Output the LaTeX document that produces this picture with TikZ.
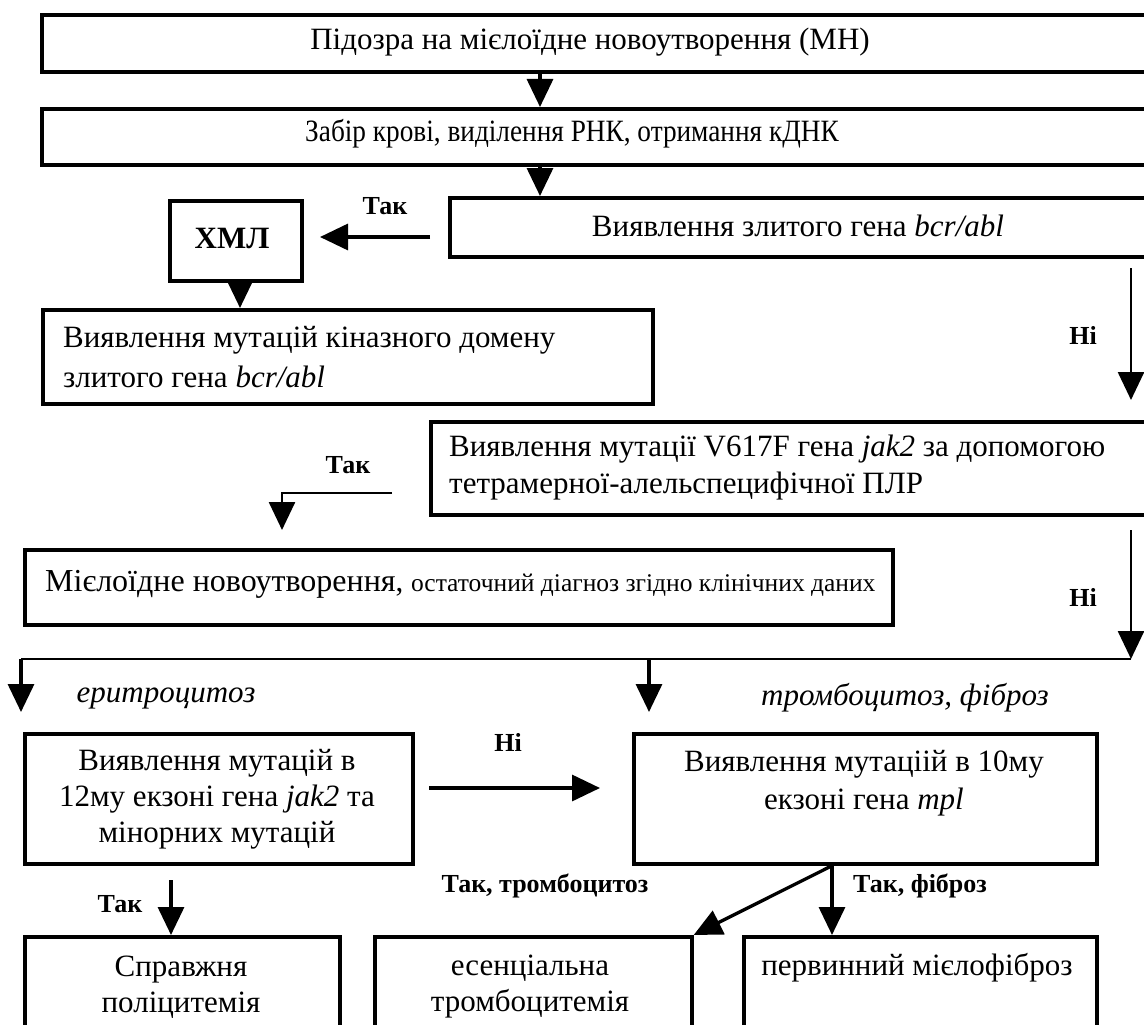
\documentclass[tikz,border=0pt]{standalone}
\usepackage{fontspec}
\setmainfont{Liberation Serif}
\newfontfamily\narrowfont[FakeStretch=0.88]{Liberation Serif}
\usetikzlibrary{arrows.meta}
\begin{document}
\begin{tikzpicture}[x=1pt,y=-1pt,
 box/.style={draw, line width=3.7pt, anchor=north west, inner sep=0pt},
 txt/.style={inner sep=0pt, font=\fontsize{31}{36}\selectfont, align=center},
 lbl/.style={inner sep=0pt, font=\fontsize{26}{30}\selectfont\bfseries},
 arr/.style={line width=3.3pt, -{Triangle[length=28pt,width=26pt]}},
 tarr/.style={line width=2.6pt, -{Triangle[length=28pt,width=26pt]}},
 ln/.style={line width=2.8pt}]
\useasboundingbox (0,0) rectangle (1144,1025);
\clip (0,0) rectangle (1144,1025);
\fill[white] (0,0) rectangle (1144,1025);

% boxes
\node[box, minimum width=1120pt, minimum height=57pt] (b1) at (40,13) {};
\node[box, minimum width=1120pt, minimum height=56pt] (b2) at (40,107) {};
\node[box, minimum width=720pt, minimum height=59pt] (b3) at (448,196) {};
\node[box, minimum width=132pt, minimum height=80pt] (hml) at (168,199) {};
\node[box, minimum width=610pt, minimum height=94pt] (kin) at (41,308) {};
\node[box, minimum width=730pt, minimum height=93pt] (jak) at (429,420) {};
\node[box, minimum width=868pt, minimum height=75pt] (mn) at (23,548) {};
\node[box, minimum width=388pt, minimum height=130pt] (ex12) at (23,732) {};
\node[box, minimum width=463pt, minimum height=130pt] (mpl) at (632,732) {};
\node[box, minimum width=315pt, minimum height=140pt] (pv) at (23,935) {};
\node[box, minimum width=317pt, minimum height=140pt] (et) at (373,935) {};
\node[box, minimum width=353pt, minimum height=140pt] (pmf) at (742,935) {};

% texts
\node[txt] (t1) at (590,42) {Підозра на мієлоїдне новоутворення (МН)};
\node[txt, font=\narrowfont\fontsize{31}{36}\selectfont] (t2) at (572,134) {Забір крові, виділення РНК, отримання кДНК};
\node[txt] (t3) at (798,226) {Виявлення злитого гена \textit{bcr/abl}};
\node[txt, font=\fontsize{31}{36}\selectfont\bfseries] (t4) at (232,239) {ХМЛ};
\node[txt, font=\fontsize{31}{40}\selectfont, align=left, anchor=west] (t5) at (63,357) {Виявлення мутацій кіназного домену\\злитого гена \textit{bcr/abl}};
\node[txt, font=\fontsize{31}{37}\selectfont, align=left, anchor=west] (t6) at (449,468) {Виявлення мутації V617F гена \textit{jak2} за допомогою\\тетрамерної-алельспецифічної ПЛР};
\node[txt, anchor=west] (t7) at (45,584) {{\fontsize{32}{36}\selectfont Мієлоїдне новоутворення}, {\fontsize{25.5}{30}\selectfont остаточний діагноз згідно клінічних даних}};
\node[txt, font=\fontsize{31}{36}\selectfont\itshape] (t8) at (166,698) {еритроцитоз};
\node[txt, font=\fontsize{31}{36}\selectfont\itshape] (t9) at (905,698) {тромбоцитоз, фіброз};
\node[txt] (t10) at (217,799) {Виявлення мутацій в\\12му екзоні гена \textit{jak2} та\\мінорних мутацій};
\node[txt, font=\fontsize{31}{38}\selectfont] (t11) at (864,783) {Виявлення мутаціій в 10му\\екзоні гена \textit{mpl}};
\node[txt, font=\fontsize{31}{36}\selectfont] (t12) at (181,987) {Справжня\\поліцитемія};
\node[txt, font=\fontsize{31}{36}\selectfont] (t13) at (530,987) {есенціальна\\тромбоцитемія};
\node[txt] (t14) at (917,968) {первинний мієлофіброз};

% labels
\node[lbl] (l1) at (385,206) {Так};
\node[lbl] (l2) at (1083,335) {Ні};
\node[lbl] (l3) at (348,465) {Так};
\node[lbl] (l4) at (1083,597) {Ні};
\node[lbl] (l5) at (508,742) {Ні};
\node[lbl] (l6) at (545,886) {Так, тромбоцитоз};
\node[lbl] (l7) at (920,886) {Так, фіброз};
\node[lbl] (l8) at (120,904) {Так};

% helper coordinates
\coordinate (x540) at (540,0);
\coordinate (x240) at (240,0);
\coordinate (x171) at (171,0);
\coordinate (x832) at (832,0);
\coordinate (hs) at (430,237);
\coordinate (he) at (320,237);
\coordinate (c1) at (1131,268);
\coordinate (c2) at (1131,400);
\coordinate (c3) at (392,493);
\coordinate (c3b) at (282,493);
\coordinate (c4) at (282,530);
\coordinate (c5) at (1131,530);
\coordinate (c6) at (1131,659);
\coordinate (c7) at (21,659);
\coordinate (c8) at (649,659);
\coordinate (c9) at (21,712);
\coordinate (c10) at (649,712);
\coordinate (n1) at (429,788);
\coordinate (n2) at (600,788);
\coordinate (c11) at (171,880);

% connectors
\draw[arr] (b1.south -| x540) -- (b2.north -| x540);
\draw[arr] (b2.south -| x540) -- (b3.north -| x540);
\draw[arr] (hs) -- (he);
\draw[arr] (hml.south -| x240) -- (kin.north -| x240);
\draw[tarr] (c1) -- (c2);
\draw[tarr] (c3) -- (c3b) -- (c4);
\draw[tarr] (c5) -- (c6);
\draw[ln] (c6) -- (c7);
\draw[arr] (c7) -- (c9);
\draw[arr] (c8) -- (c10);
\draw[arr] (n1) -- (n2);
\draw[arr] (c11) -- (pv.north -| x171);
\draw[arr] (mpl.south -| x832) -- (et.north east);
\draw[arr] (mpl.south -| x832) -- (pmf.north -| x832);
\end{tikzpicture}
\end{document}
